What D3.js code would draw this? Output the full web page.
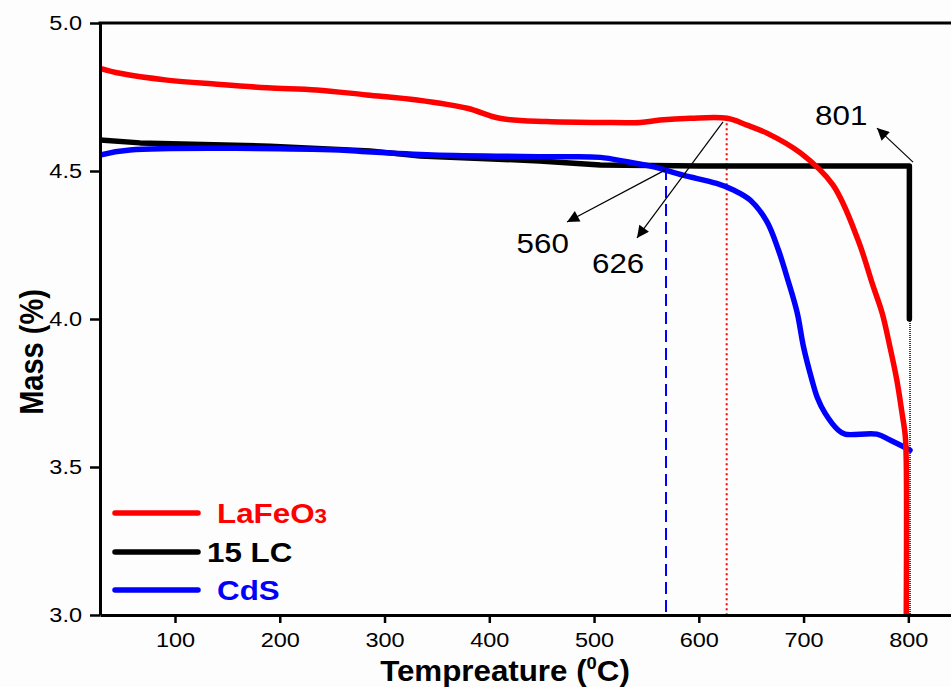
<!DOCTYPE html>
<html>
<head>
<meta charset="utf-8">
<script src="https://cdn.jsdelivr.net/npm/d3@7"></script>
<style>
  body { margin: 0; background: #fdfdfd; }
  svg { display: block; font-family: "Liberation Sans", Arial, sans-serif; }
</style>
</head>
<body>
<div class="tgaChart"></div>
<script>
// temperature (C) / mass (%)
const lafeo3Temp = [28.4, 47.5, 92.4, 140, 188, 235, 283, 331, 379, 410, 455, 506, 544, 563, 592, 627, 646, 665, 697, 728, 752, 766, 775, 782.5, 789, 794, 797, 798, 798];
const lafeo3Mass = [4.847, 4.830, 4.807, 4.793, 4.781, 4.774, 4.757, 4.740, 4.712, 4.678, 4.667, 4.664, 4.664, 4.672, 4.678, 4.678, 4.655, 4.628, 4.561, 4.453, 4.267, 4.115, 4.020, 3.905, 3.794, 3.682, 3.608, 3.524, 2.98];

const lcTemp = [28.4, 66.6, 190.7, 286, 334, 448, 506, 601, 800, 801, 801];
const lcMass = [4.605, 4.595, 4.584, 4.568, 4.551, 4.534, 4.520, 4.517, 4.517, 4.517, 4.0];

const cdsTemp = [28.4, 57, 257.5, 283, 346, 458, 506, 531.5, 556, 585, 617, 633, 649, 665, 676, 685, 694, 700, 708, 713, 720.5, 733, 739.5, 770, 782.5, 801.6];
const cdsMass = [4.554, 4.571, 4.571, 4.565, 4.554, 4.548, 4.546, 4.531, 4.515, 4.486, 4.458, 4.436, 4.402, 4.329, 4.233, 4.132, 4.020, 3.905, 3.794, 3.736, 3.682, 3.625, 3.611, 3.611, 3.591, 3.557];

const xTicks = [100, 200, 300, 400, 500, 600, 700, 800];
const yTicks = [3.0, 3.5, 4.0, 4.5, 5.0];

// reference lines: [temperature, top mass]
const blueLine = [568.7, 4.51];
const redLine = [626.6, 4.678];
const blackLine = [801.6, 4.0];

// annotations: label, text pos, arrow tail, arrow head
const notes = [
  {label: '560', tx: 426, ty: 4.223, x1: 567.7, y1: 4.503, x2: 474.2, y2: 4.328},
  {label: '626', tx: 498, ty: 4.155, x1: 623.1, y1: 4.666, x2: 541.0, y2: 4.274},
  {label: '801', tx: 711, ty: 4.655, x1: 804.5, y1: 4.530, x2: 770.1, y2: 4.645}
];

const series = [
  {name: 'LaFeO', sub: '3', color: '#ff0000', temp: lafeo3Temp, mass: lafeo3Mass, smooth: true},
  {name: '15 LC', sub: '', color: '#000000', temp: lcTemp, mass: lcMass, smooth: false},
  {name: 'CdS', sub: '', color: '#0000ff', temp: cdsTemp, mass: cdsMass, smooth: true}
];

const W = 951, H = 687;
const plotLeft = 100, plotTop = 23, plotBottom = 615;
const stretch = 1.12; // the original picture is a bit wider than tall

const svg = d3.select('.tgaChart')
  .append('svg')
  .attr('width', W)
  .attr('height', H);

const xScale = d3.scaleLinear()
  .domain([28.4, 850])
  .range([plotLeft, plotLeft + (850 - 28.4) * 1.0476]);

const yScale = d3.scaleLinear()
  .domain([3.0, 5.0])
  .range([plotBottom, plotTop]);

svg.append('clipPath')
  .attr('id', 'plotClip')
  .append('rect')
  .attr('x', plotLeft).attr('y', plotTop)
  .attr('width', W - plotLeft).attr('height', plotBottom - plotTop);

const plot = svg.append('g').attr('clip-path', 'url(#plotClip)');

// dashed / dotted markers
plot.append('line')
  .attr('x1', xScale(blueLine[0])).attr('x2', xScale(blueLine[0]))
  .attr('y1', yScale(blueLine[1])).attr('y2', plotBottom)
  .attr('stroke', '#0000ff').attr('stroke-width', 2)
  .attr('stroke-dasharray', '12,6');

plot.append('line')
  .attr('x1', xScale(redLine[0])).attr('x2', xScale(redLine[0]))
  .attr('y1', yScale(redLine[1])).attr('y2', plotBottom)
  .attr('stroke', '#ff0000').attr('stroke-width', 2)
  .attr('stroke-dasharray', '2,3');

plot.append('line')
  .attr('x1', xScale(blackLine[0])).attr('x2', xScale(blackLine[0]))
  .attr('y1', yScale(blackLine[1])).attr('y2', plotBottom)
  .attr('stroke', '#000').attr('stroke-width', 1.5)
  .attr('stroke-dasharray', '1,1');

const smoothLine = d3.line()
  .x(d => xScale(d[0]))
  .y(d => yScale(d[1]))
  .curve(d3.curveCatmullRom.alpha(0.5));

const straightLine = d3.line()
  .x(d => xScale(d[0]))
  .y(d => yScale(d[1]));

// draw black first, then blue, red on top
[series[1], series[2], series[0]].forEach(s => {
  plot.append('path')
    .datum(s.temp.map((t, i) => [t, s.mass[i]]))
    .attr('d', s.smooth ? smoothLine : straightLine)
    .attr('fill', 'none')
    .attr('stroke', s.color)
    .attr('stroke-width', 5.5)
    .attr('stroke-linejoin', 'round')
    .attr('stroke-linecap', 'round');
});

// arrows
svg.append('defs').append('marker')
  .attr('id', 'arrowHead')
  .attr('viewBox', '0 0 10 10')
  .attr('refX', 10).attr('refY', 5)
  .attr('markerWidth', 16).attr('markerHeight', 12)
  .attr('markerUnits', 'userSpaceOnUse')
  .attr('orient', 'auto')
  .append('path')
  .attr('d', 'M0,0 L10,5 L0,10 Z')
  .attr('fill', '#000');

notes.forEach(n => {
  svg.append('line')
    .attr('x1', xScale(n.x1)).attr('y1', yScale(n.y1))
    .attr('x2', xScale(n.x2)).attr('y2', yScale(n.y2))
    .attr('stroke', '#000').attr('stroke-width', 1.2)
    .attr('marker-end', 'url(#arrowHead)');
  svg.append('text')
    .attr('transform', `translate(${xScale(n.tx)},${yScale(n.ty)}) scale(${stretch},1)`)
    .attr('font-size', 28)
    .attr('fill', '#000')
    .text(n.label);
});

// axes
const xAxis = d3.axisBottom(xScale)
  .tickValues(xTicks)
  .tickSize(8)
  .tickSizeOuter(0)
  .tickPadding(9);

const yAxis = d3.axisLeft(yScale)
  .tickValues(yTicks)
  .tickSize(10)
  .tickSizeOuter(0)
  .tickPadding(8)
  .tickFormat(d3.format('.1f'));

const gx = svg.append('g')
  .attr('transform', `translate(0,${plotBottom})`)
  .call(xAxis);

const gy = svg.append('g')
  .attr('transform', `translate(${plotLeft},0)`)
  .call(yAxis);

[gx, gy].forEach(g => {
  g.select('.domain').attr('stroke-width', 3);
  g.selectAll('.tick line').attr('stroke-width', 2.5);
  g.selectAll('.tick text')
    .attr('font-size', 21)
    .attr('font-family', '"Liberation Sans", Arial, sans-serif')
    .attr('fill', '#000')
    .attr('transform', `scale(${stretch},1)`);
});
gy.selectAll('.tick text').attr('x', -18 / stretch);

// top frame line
svg.append('line')
  .attr('x1', plotLeft - 1.5).attr('x2', W)
  .attr('y1', plotTop).attr('y2', plotTop)
  .attr('stroke', '#000').attr('stroke-width', 3);

// axis titles
const xTitle = svg.append('text')
  .attr('transform', `translate(505,681) scale(1.08,1)`)
  .attr('text-anchor', 'middle')
  .attr('font-size', 29)
  .attr('font-weight', 'bold');
xTitle.append('tspan').text('Tempreature (');
xTitle.append('tspan').attr('font-size', 17).attr('dy', -12).text('0');
xTitle.append('tspan').attr('dy', 12).text('C)');

svg.append('text')
  .attr('transform', `translate(43,352) scale(${stretch},1) rotate(-90)`)
  .attr('text-anchor', 'middle')
  .attr('font-size', 29)
  .attr('font-weight', 'bold')
  .text('Mass (%)');

// legend
const legendY = [513, 552, 590];
const legendTextX = [217, 207, 217];
series.forEach((s, i) => {
  svg.append('line')
    .attr('x1', 115).attr('x2', 198)
    .attr('y1', legendY[i]).attr('y2', legendY[i])
    .attr('stroke', s.color).attr('stroke-width', 5.5)
    .attr('stroke-linecap', 'round');
  const t = svg.append('text')
    .attr('transform', `translate(${legendTextX[i]},${legendY[i] + 10}) scale(${stretch},1)`)
    .attr('font-size', 28)
    .attr('font-weight', 'bold')
    .attr('fill', s.color)
    .text(s.name);
  if (s.sub) {
    t.append('tspan').attr('font-size', 20).text(s.sub);
  }
});
</script>
</body>
</html>
